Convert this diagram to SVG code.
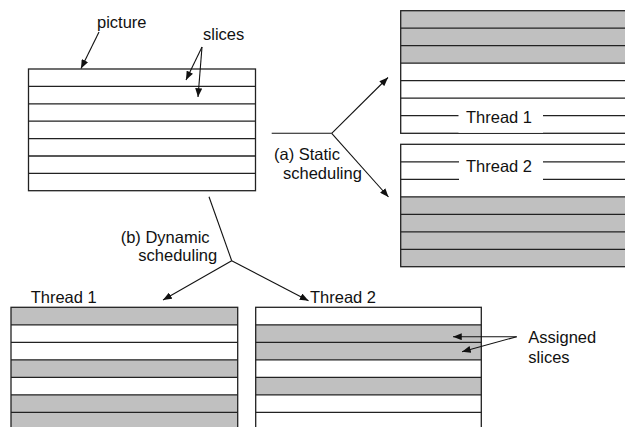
<svg xmlns="http://www.w3.org/2000/svg" width="625" height="427" viewBox="0 0 625 427">
<style>
.t{font-family:"Liberation Sans",Arial,sans-serif;font-size:16.5px;fill:#111}
.box{fill:none;stroke:#222;stroke-width:1.3}
.g{fill:#c0c0c0;stroke:none}
.ln{stroke:#222;stroke-width:1.3;fill:none}
.c{stroke:#111;stroke-width:1.1;fill:none}
.ca{stroke:#111;stroke-width:1.1;fill:none;marker-end:url(#ah)}
</style>
<defs>
<marker id="ah" viewBox="0 0 10 8" refX="10" refY="4" markerWidth="9" markerHeight="7" markerUnits="userSpaceOnUse" orient="auto">
<path d="M0,0 L10,4 L0,8 z" fill="#111"/>
</marker>
</defs>

<g id="picture">
<rect class="box" x="28.5" y="69" width="227" height="121.7"/>
<path class="ln" d="M28.5,86.4H255.5M28.5,103.8H255.5M28.5,121.2H255.5M28.5,138.6H255.5M28.5,156H255.5M28.5,173.4H255.5"/>
<text class="t" x="97" y="28">picture</text>
<text class="t" x="203" y="40">slices</text>
</g>

<g id="static-thread1">
<rect class="g" x="400.7" y="10.7" width="240" height="52.5"/>
<rect class="box" x="400.7" y="10.7" width="240" height="122.6"/>
<path class="ln" d="M400.7,28.2H640M400.7,45.7H640M400.7,63.2H640M400.7,80.7H640M400.7,98.2H640M400.7,115.7H640"/>
<rect x="458.5" y="104" width="84.5" height="28.8" fill="#fff"/>
<text class="t" x="466" y="123">Thread 1</text>
</g>

<g id="static-thread2">
<rect class="g" x="400.7" y="196.8" width="240" height="69.9"/>
<rect class="box" x="400.7" y="144.3" width="240" height="122.4"/>
<path class="ln" d="M400.7,161.8H640M400.7,179.3H640M400.7,196.8H640M400.7,214.3H640M400.7,231.8H640M400.7,249.3H640"/>
<rect x="459" y="151" width="84" height="29.5" fill="#fff"/>
<text class="t" x="466" y="172">Thread 2</text>
</g>

<g id="dynamic-thread1">
<rect class="g" x="11" y="307.3" width="226.7" height="17.5"/>
<rect class="g" x="11" y="359.8" width="226.7" height="17.5"/>
<rect class="g" x="11" y="394.8" width="226.7" height="40"/>
<rect class="box" x="11" y="307.3" width="226.7" height="140"/>
<path class="ln" d="M11,324.8H237.7M11,342.3H237.7M11,359.8H237.7M11,377.3H237.7M11,394.8H237.7M11,412.3H237.7"/>
<text class="t" x="30.7" y="303.3">Thread 1</text>
</g>

<g id="dynamic-thread2">
<rect class="g" x="255.7" y="324.8" width="225.6" height="35"/>
<rect class="g" x="255.7" y="377.3" width="225.6" height="17.5"/>
<rect class="box" x="255.7" y="307.3" width="225.6" height="140"/>
<path class="ln" d="M255.7,324.8H481.3M255.7,342.3H481.3M255.7,359.8H481.3M255.7,377.3H481.3M255.7,394.8H481.3M255.7,412.3H481.3"/>
<text class="t" x="310" y="303.3">Thread 2</text>
</g>

<g id="labels">
<text class="t" x="274" y="159.5">(a) Static</text>
<text class="t" x="283" y="178.5">scheduling</text>
<text class="t" x="120.7" y="243">(b) Dynamic</text>
<text class="t" x="138.3" y="260.5">scheduling</text>
<text class="t" x="528.3" y="343">Assigned</text>
<text class="t" x="528.3" y="362.7">slices</text>
</g>

<g id="connectors">
<line class="ca" x1="99" y1="32" x2="81" y2="68.5"/>
<line class="ca" x1="202" y1="47" x2="186" y2="80"/>
<line class="ca" x1="202" y1="47" x2="198" y2="97"/>
<path class="c" d="M271.7,133.3H331.7"/>
<line class="ca" x1="331.7" y1="133.3" x2="388" y2="77.5"/>
<line class="ca" x1="331.7" y1="133.3" x2="388.5" y2="197"/>
<line class="c" x1="209" y1="196.7" x2="231.7" y2="260.7"/>
<line class="ca" x1="231.7" y1="260.7" x2="163" y2="300"/>
<line class="ca" x1="231.7" y1="260.7" x2="308.5" y2="300.7"/>
<line class="ca" x1="516.7" y1="336.7" x2="453" y2="336.7"/>
<line class="ca" x1="516.7" y1="336.7" x2="462" y2="351.7"/>
</g>
</svg>
